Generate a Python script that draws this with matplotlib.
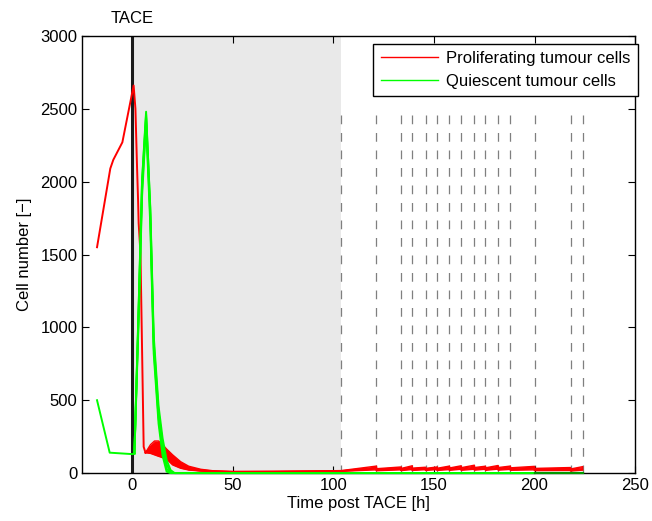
import numpy as np
import matplotlib
matplotlib.use("Agg")
import matplotlib.pyplot as plt

plt.rcParams['font.family'] = ['Liberation Sans', 'DejaVu Sans']

# pre-TACE and the drop right after TACE (hours, cells)
red_t_pre = [-17.6, -11, -9.5, -5, 0.6, 1.5, 2.3, 2.8, 3.1, 4, 4.5, 5.6, 6.5]
red_y_pre = [1550, 2090, 2150, 2270, 2660, 2500, 2100, 1880, 1715, 1510, 1100, 180, 140]

green_t_pre = [-17.6, -11.3, 0, 1]
green_y_pre = [500, 140, 130, 135]

# post-TACE ensemble, proliferating cells (early phase)
red_t_early = [6.5, 9, 11, 13, 15, 17, 20, 24, 28, 34, 40, 50, 70, 90]
red_runs_early = [
    [140, 195, 220, 220, 195, 165, 125, 78, 47, 26, 16, 11, 12, 14],
    [140, 180, 198, 190, 170, 145, 105, 65, 40, 22, 14, 10, 11, 13],
    [140, 163, 172, 165, 145, 122, 86, 52, 32, 19, 12, 9, 10, 12],
    [140, 150, 148, 138, 124, 104, 68, 42, 25, 16, 11, 8, 9, 11],
    [140, 135, 125, 115, 106, 95, 56, 33, 21, 14, 10, 7, 8, 10],
]

# dosing times (dashed lines) and values just before / after each one
dose_t = [103.8, 121.4, 133.7, 139.2, 145.8, 151.6, 157.7, 163.5,
          170.1, 175.6, 181.9, 188.0, 200.0, 217.9, 223.9]
red_runs_pre = [
    [17, 48, 42, 50, 40, 42, 48, 50, 54, 47, 52, 48, 46, 38, 44],
    [15, 40, 37, 42, 36, 38, 42, 44, 47, 42, 46, 42, 40, 32, 37],
    [14, 34, 32, 36, 32, 34, 36, 38, 40, 37, 39, 36, 34, 27, 30],
    [13, 28, 27, 30, 28, 29, 30, 32, 33, 32, 33, 31, 28, 22, 24],
    [12, 22, 22, 24, 23, 24, 24, 26, 26, 26, 27, 25, 22, 18, 20],
]
red_runs_post = [
    [17, 30, 32, 34, 32, 33, 35, 37, 38, 36, 38, 36, 32, 28, 44],
    [15, 26, 28, 29, 28, 29, 30, 32, 33, 31, 33, 31, 28, 24, 37],
    [14, 22, 24, 25, 24, 25, 26, 27, 28, 27, 28, 26, 24, 20, 30],
    [13, 19, 20, 21, 21, 21, 22, 23, 24, 23, 24, 22, 20, 17, 24],
    [12, 16, 17, 18, 18, 18, 19, 19, 20, 19, 20, 19, 17, 14, 20],
]

# quiescent cells ensemble
green_t_post = [1, 3, 4.8, 6.8, 8.9, 10.6, 13, 15, 17, 19, 21, 200]
green_runs = [
    [135, 1100, 2010, 2480, 1800, 900, 420, 200, 60, 5, 0, 0],
    [135, 1050, 1950, 2440, 1750, 860, 380, 160, 30, 0, 0, 0],
    [135, 1000, 1900, 2400, 1700, 820, 340, 120, 10, 0, 0, 0],
    [135, 1080, 2000, 2460, 1820, 940, 460, 240, 90, 20, 0, 0],
]
green_tail_t = [200, 224]
green_tail_y = [0, 0]

fig = plt.figure(figsize=(6.52, 5.21), dpi=100)
ax = fig.add_axes([0.126, 0.092, 0.848, 0.839])

ax.axvspan(0, dose_t[0], color='#e9e9e9', lw=0, zorder=0)

for t in dose_t:
    ax.plot([t, t], [2460, 0], color='#7f7f7f', lw=0.9,
            ls=(0, (7, 7)), zorder=1)

ax.axvline(0, color='#1a1a1a', lw=2.2, zorder=2)

# red ensemble
for k in range(len(red_runs_early)):
    x = list(red_t_early)
    y = list(red_runs_early[k])
    for t, a, b in zip(dose_t, red_runs_pre[k], red_runs_post[k]):
        x += [t, t]
        y += [a, b]
    ax.plot(x, y, color='red', lw=1.0, zorder=3)
ax.fill_between(red_t_early, red_runs_early[-1], red_runs_early[0],
                color='red', lw=0, zorder=3)
ax.plot(red_t_pre, red_y_pre, color='red', lw=1.4, zorder=4,
        label='Proliferating tumour cells')

# green ensemble
ax.plot(green_t_pre, green_y_pre, color='#00ff00', lw=1.4, zorder=7,
        label='Quiescent tumour cells')
for run in green_runs:
    ax.plot(green_t_post, run, color='#00ff00', lw=1.4, zorder=7,
            clip_on=False)
ax.plot(green_tail_t, green_tail_y, color='#009900', lw=1.6, zorder=7,
        clip_on=False)

ax.set_xlim(-25, 250)
ax.set_ylim(0, 3000)
ax.set_xticks([0, 50, 100, 150, 200, 250])
ax.set_yticks([0, 500, 1000, 1500, 2000, 2500, 3000])
ax.tick_params(direction='in', top=True, right=True, length=5,
               labelsize=12, width=0.8)
for s in ax.spines.values():
    s.set_linewidth(1.0)
    s.set_zorder(6)

ax.set_xlabel('Time post TACE [h]', fontsize=12, labelpad=2)
ax.set_ylabel('Cell number [\u2212]', fontsize=12, labelpad=6)
ax.text(0, 3070, 'TACE', ha='center', va='bottom', fontsize=12)

leg = ax.legend(loc='upper right', bbox_to_anchor=(1.005, 0.982),
                fontsize=12, frameon=True, fancybox=False,
                edgecolor='black', framealpha=1, borderpad=0.45,
                handlelength=3.4, handletextpad=0.5, labelspacing=0.45,
                borderaxespad=0.0)
leg.get_frame().set_linewidth(1.0)
leg.set_zorder(8)
for h in leg.get_lines():
    h.set_linewidth(1.0)

fig.savefig('out.png', dpi=100)
